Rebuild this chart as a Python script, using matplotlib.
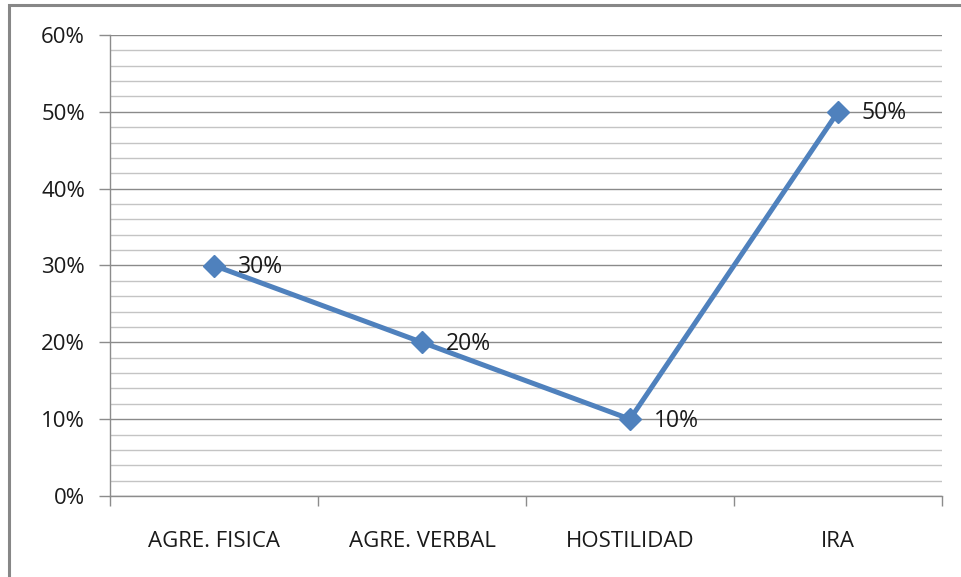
import matplotlib.pyplot as plt
from matplotlib.patches import Rectangle
from matplotlib.ticker import MultipleLocator, FuncFormatter

plt.rcParams["font.family"] = ["Open Sans", "DejaVu Sans"]

# Datos
categorias = ["AGRE. FISICA", "AGRE. VERBAL", "HOSTILIDAD", "IRA"]
porcentajes = [0.30, 0.20, 0.10, 0.50]
etiquetas = ["30%", "20%", "10%", "50%"]

AZUL = "#4F81BD"
GRIS = "#8C8C8C"


def main() -> None:
    fig = plt.figure(figsize=(9.61, 5.77), dpi=100)
    ax = fig.add_axes([110 / 961, 1 - 496 / 577, 832 / 961, 461 / 577])

    # marco exterior (solo se ven borde izquierdo y superior)
    fig.patches.append(Rectangle((9 / 961, -0.1), 1.2, 1 - 5 / 577 + 0.1,
                                 transform=fig.transFigure, fill=False,
                                 edgecolor="#878787", linewidth=2.2))

    x = list(range(len(categorias)))
    ax.plot(x, porcentajes, color=AZUL, linewidth=3.6, marker="D",
            markersize=11.5, zorder=3)
    for xi, yi, txt in zip(x, porcentajes, etiquetas):
        ax.annotate(txt, (xi, yi), xytext=(17, -1), textcoords="offset points",
                    va="center", ha="left", fontsize=16.5, color="#1a1a1a")

    ax.set_xlim(-0.5, len(categorias) - 0.5)
    ax.set_ylim(0, 0.6)
    ax.yaxis.set_major_locator(MultipleLocator(0.1))
    ax.yaxis.set_minor_locator(MultipleLocator(0.02))
    ax.yaxis.set_major_formatter(FuncFormatter(lambda v, _: f"{v * 100:.0f}%"))
    ax.grid(which="major", axis="y", color="#8a8a8a", linewidth=1.0)
    ax.grid(which="minor", axis="y", color="#c4c4c4", linewidth=1.0)
    ax.set_axisbelow(True)

    ax.set_xticks(x)
    ax.set_xticklabels(categorias)
    ax.set_xticks([i - 0.5 for i in range(len(categorias) + 1)], minor=True)
    ax.tick_params(axis="x", which="major", length=0, pad=25, labelsize=16,
                   labelcolor="#1a1a1a")
    ax.tick_params(axis="x", which="minor", length=7, color=GRIS, width=1)
    ax.tick_params(axis="y", which="major", length=8, color=GRIS, width=1,
                   labelsize=16, pad=10, labelcolor="#1a1a1a")
    ax.tick_params(axis="y", which="minor", length=0)

    for s in ["top", "right"]:
        ax.spines[s].set_visible(False)
    for s in ["left", "bottom"]:
        ax.spines[s].set_color(GRIS)
        ax.spines[s].set_linewidth(1.0)

    fig.savefig("out.png", dpi=100)


if __name__ == "__main__":
    main()
